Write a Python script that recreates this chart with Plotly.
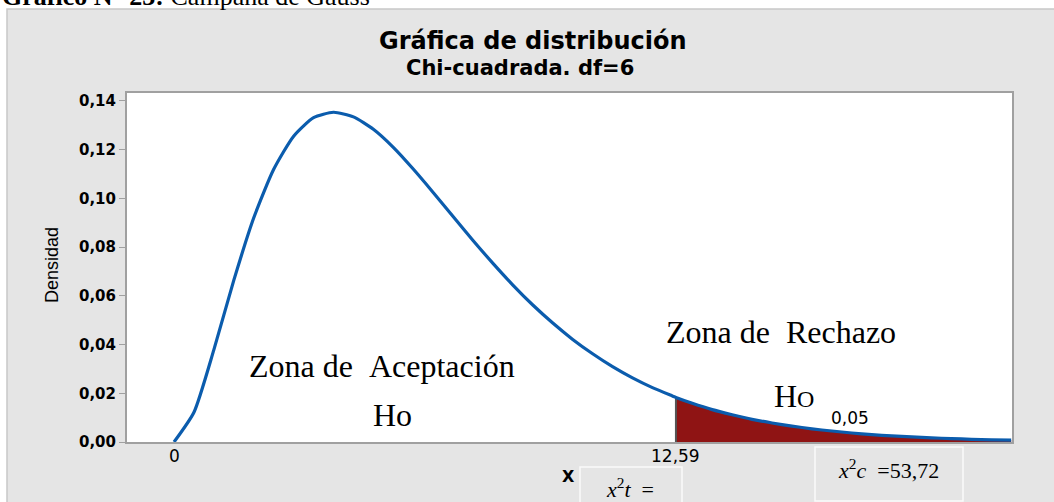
import plotly.graph_objects as go

# chi-square density (df=6)
x_vals = [0, 0.5, 1, 1.5, 2, 2.5, 3, 3.5, 4, 4.5, 5, 5.5, 6, 6.5, 7, 7.5, 8, 8.5,
          9, 9.5, 10, 10.5, 11, 11.5, 12, 12.5, 12.59, 13, 13.5, 14, 14.5, 15,
          15.5, 16, 16.5, 17, 17.5, 18, 18.5, 19, 19.5, 20, 20.5, 21]
dens = [0.0, 0.0122, 0.0379, 0.0664, 0.0920, 0.1119, 0.1255, 0.1331, 0.1353,
        0.1334, 0.1283, 0.1209, 0.1120, 0.1024, 0.0925, 0.0827, 0.0733, 0.0644,
        0.0562, 0.0488, 0.0421, 0.0362, 0.0309, 0.0263, 0.0223, 0.0189, 0.0183,
        0.0159, 0.0133, 0.0112, 0.0093, 0.0078, 0.0065, 0.0054, 0.0045, 0.0037,
        0.0030, 0.0025, 0.0021, 0.0017, 0.0014, 0.0011, 0.0009, 0.0008]
crit = 12.59
y_ticks = [0, 0.02, 0.04, 0.06, 0.08, 0.10, 0.12, 0.14]
x_ticks = [0, crit]
x_ticktext = ["0", "12,59"]

W, H = 1054, 502
L, R, T, B = 127, 42, 93, 60
PW, PH = W - L - R, H - T - B

def px(x):
    return (x - L) / PW

def py(y):
    return (H - B - y) / PH

GRAY = "#e5e5e5"
BLUE = "#0b5cad"
SANS = "DejaVu Sans, Open Sans, sans-serif"
SERIF = "Liberation Serif, Times New Roman, serif"

fig = go.Figure()

# rejection region
tail_x = [x for x in x_vals if x >= crit]
tail_y = [d for x, d in zip(x_vals, dens) if x >= crit]
fig.add_trace(go.Scatter(x=tail_x, y=tail_y, mode="lines", fill="tozeroy",
                         fillcolor="#8f1414", line=dict(width=0),
                         hoverinfo="skip"))
fig.add_trace(go.Scatter(x=[crit, crit], y=[0, tail_y[0]], mode="lines",
                         line=dict(color="#555555", width=2), hoverinfo="skip"))
fig.add_trace(go.Scatter(x=x_vals, y=dens, mode="lines",
                         line=dict(color=BLUE, width=3.2, shape="spline", smoothing=0.6)))

shapes = [
    # white strips outside the grey frame
    dict(type="rect", xref="paper", yref="paper", layer="below",
         x0=px(-20), x1=px(W + 20), y0=py(9), y1=py(-20),
         fillcolor="white", line=dict(width=0)),
    dict(type="rect", xref="paper", yref="paper", layer="below",
         x0=px(-20), x1=px(7), y0=py(H + 20), y1=py(9),
         fillcolor="white", line=dict(width=0)),
    dict(type="rect", xref="paper", yref="paper", layer="below",
         x0=px(7), x1=px(W + 20), y0=py(H + 20), y1=py(9),
         fillcolor="rgba(0,0,0,0)", line=dict(color="#c8c8c8", width=1.5)),
    # boxes under the x axis
    dict(type="rect", xref="paper", yref="paper",
         x0=px(580), x1=px(682), y0=py(H + 10), y1=py(467),
         fillcolor=GRAY, line=dict(color="#fafafa", width=1.5)),
    dict(type="rect", xref="paper", yref="paper",
         x0=px(815), x1=px(963), y0=py(H - 1), y1=py(447),
         fillcolor=GRAY, line=dict(color="#fafafa", width=1.5)),
]

def note(text, x, y, size, family=SERIF, xanchor="center", yanchor="middle", **kw):
    return dict(text=text, xref="paper", yref="paper", x=px(x), y=py(y),
                xanchor=xanchor, yanchor=yanchor, showarrow=False,
                font=dict(family=family, size=size, color="black"), **kw)

annotations = [
    note("<b>Gráfico N° 23:</b> Campana de Gauss", 0, 13, 26, xanchor="left", yanchor="bottom"),
    note("<b>Gráfica de distribución</b>", 533, 41, 24, family=SANS),
    note("<b>Chi-cuadrada. df=6</b>", 520, 68, 21, family=SANS),
    note("Densidad", 52, 265, 18, family="Liberation Sans Narrow, Arial Narrow, sans-serif",
         textangle=-90),
    note("Zona de\u00a0\u00a0Aceptación", 382, 366, 32),
    note("Ho", 392, 415, 32),
    note("Zona de\u00a0\u00a0Rechazo", 781, 332, 32),
    note("H<span style='font-size:24px'>O</span>", 794, 396, 32),
    note("0,05", 850, 418, 17, family=SANS),
    note("<b>X</b>", 568, 476, 16, family=SANS),
    note("<i>x</i><sup>2</sup><i>t</i>\u00a0\u00a0=", 630, 488, 22),
    note("<i>x</i><sup>2</sup><i>c</i>\u00a0\u00a0=53,72", 888, 469, 22),
]

# x tick labels placed on the data scale
for v, t in zip(x_ticks, x_ticktext):
    annotations.append(dict(text=t, xref="x", yref="paper", x=v, y=py(456),
                            xanchor="center", yanchor="middle", showarrow=False,
                            font=dict(family=SANS, size=17, color="black")))

fig.update_layout(
    width=W, height=H,
    margin=dict(l=L, r=R, t=T, b=B),
    paper_bgcolor=GRAY, plot_bgcolor="white",
    showlegend=False, separators=",.",
    font=dict(family=SANS, size=15, color="black"),
    shapes=shapes, annotations=annotations,
)
fig.update_xaxes(range=[-1.18, 21.02], tickvals=x_ticks, showticklabels=False,
                 showgrid=False, zeroline=False, showline=True, mirror=True,
                 linecolor="#a0a0a0", linewidth=2, ticks="")
fig.update_yaxes(range=[0, 0.1432], tickvals=y_ticks, tickformat=".2f",
                 showgrid=False, zeroline=False, showline=True, mirror=True,
                 linecolor="#a0a0a0", linewidth=2, ticks="outside", ticklen=6,
                 tickcolor="#a0a0a0", ticklabelstandoff=0,
                 tickfont=dict(size=15, weight="bold"))

fig.write_html("out.html", config={"displayModeBar": False},
               post_script="document.body.style.margin='0';")
